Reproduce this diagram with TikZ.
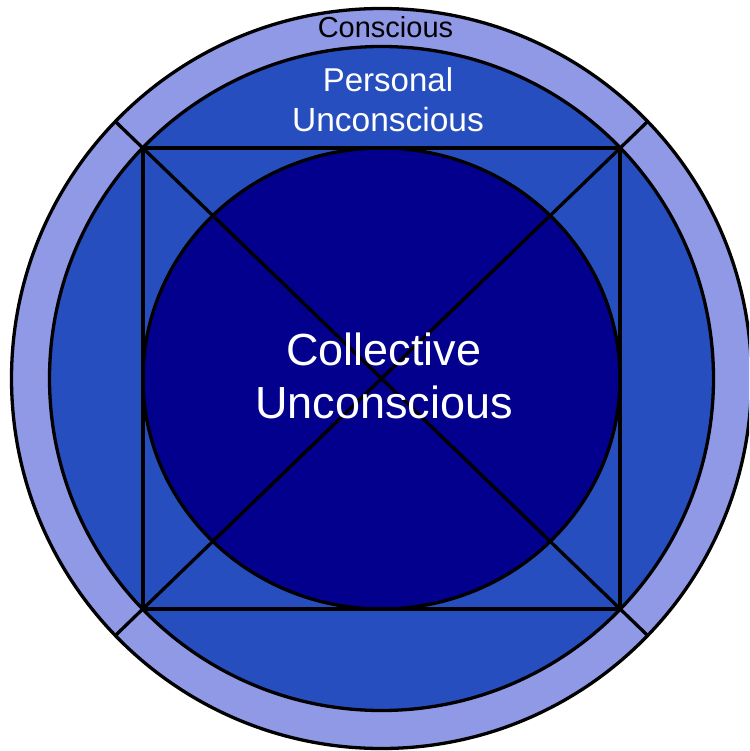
\documentclass[tikz,border=0pt]{standalone}
\usepackage{fontspec}
\setmainfont{Liberation Sans}
\usetikzlibrary{calc}
\definecolor{ringlight}{RGB}{143,153,230}
\definecolor{ringmid}{RGB}{38,78,190}
\definecolor{coredark}{RGB}{2,0,140}
\tikzset{
  outline/.style={draw=black, line width=3.3pt},
  label/.style={inner sep=0pt, anchor=base},
}
\begin{document}
\begin{tikzpicture}[x=1pt, y=-1pt]
  \useasboundingbox (0,0) rectangle (749,751);
  \fill[white] (0,0) rectangle (749,751);
  \clip (0,0) rectangle (749,751);
  \coordinate (c) at (381.5,378.5);
  % three nested layers
  \draw[outline, fill=ringlight] (c) circle (370pt);
  \draw[outline, fill=ringmid] (c) circle (332pt);
  \draw[outline, fill=coredark] (c) ellipse (238.5pt and 230.5pt);
  % square inscribed in the middle circle
  \coordinate (tl) at ($(c)+(-238.5,-230.5)$);
  \coordinate (br) at ($(c)+(238.5,230.5)$);
  \draw[outline] (tl) rectangle (br);
  % diagonals running out to the rim
  \coordinate (d1) at ($(c)+(44:370)$);
  \coordinate (d2) at ($(c)+(224:370)$);
  \coordinate (d3) at ($(c)+(-44:370)$);
  \coordinate (d4) at ($(c)+(136:370)$);
  \draw[outline] (d2) -- (d1);
  \draw[outline] (d4) -- (d3);
  % labels
  \node[label, font=\fontsize{29}{29}\selectfont, text=black] (cons) at (385.5,38) {Conscious};
  \node[label, font=\fontsize{33}{33}\selectfont, text=white] (pers1) at (388,92) {Personal};
  \node[label, font=\fontsize{33.5}{33.5}\selectfont, text=white] (pers2) at (388,132) {Unconscious};
  \node[label, font=\fontsize{45}{45}\selectfont, text=white] (coll1) at (384,365) {Collective};
  \node[label, font=\fontsize{45}{45}\selectfont, text=white] (coll2) at (384,418) {Unconscious};
\end{tikzpicture}
\end{document}
